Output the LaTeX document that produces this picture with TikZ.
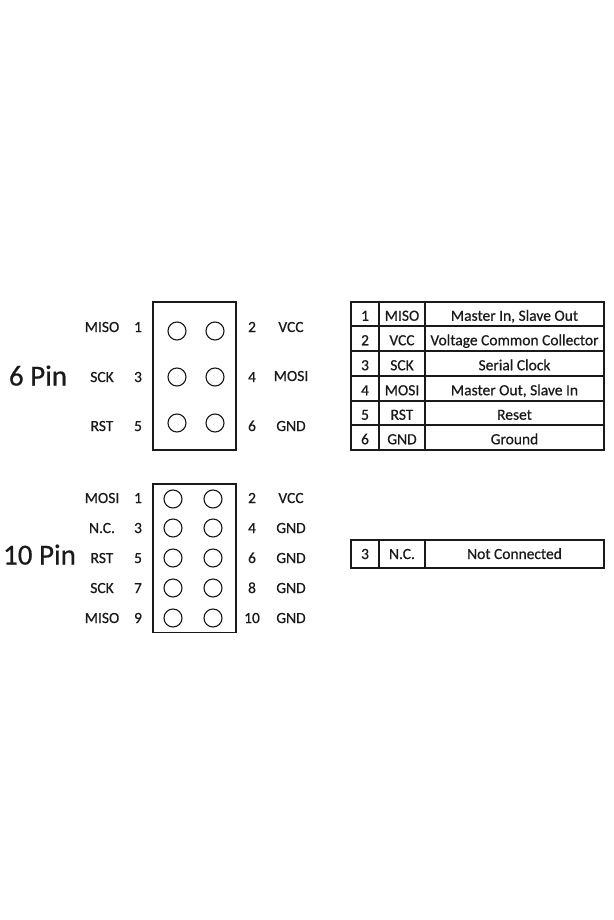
\documentclass[tikz,border=0pt]{standalone}
\usepackage{fontspec}
\setmainfont{Carlito}[BoldFont=Carlito,BoldFeatures={FakeBold=0.5}]
\definecolor{ink}{HTML}{1A1A1A}
\newcommand{\fs}[1]{\fontsize{#1}{#1}\selectfont\bfseries}
\tikzset{
  header/.style={draw=ink,line width=1.3pt,fill=none,inner sep=0pt,outer sep=0pt},
  pin/.style={circle,draw=ink,line width=1.1pt,minimum size=18pt,inner sep=0pt},
  lab/.style={text=ink,inner sep=0pt,anchor=center,font=\fs{15.5},text height=10pt,text depth=0pt},
  title/.style={text=ink,inner sep=0pt,anchor=center,font=\fs{29},text height=19pt,text depth=0pt},
  cell/.style={draw=ink,line width=1.4pt,inner sep=0pt,outer sep=0pt,text=ink,font=\fs{15.5},anchor=north west,text height=10pt,text depth=0pt},
  lowcell/.style={cell,text height=13.5pt},
}
\begin{document}
\begin{tikzpicture}[x=1pt,y=-1pt]
\useasboundingbox[fill=white] (0,0) rectangle (613,920);
% 6 pin
\node[title] (t6) at (38,376) {6 Pin};
\node[header,minimum width=83pt,minimum height=148pt,anchor=north west] (h6) at (153,302) {};
\foreach \n/\x/\y in {1/177/331,2/215/331,3/177/377,4/215/377,5/177/423,6/215/423}
  \node[pin] (p6-\n) at (\x,\y) {};
\foreach \n/\t/\x/\y in {MISO/MISO/102/327,SCK/SCK/102/377,RST/RST/102/426,VCC/VCC/291/327,MOSI/MOSI/291/376,GND/GND/291/426}
  \node[lab] (l6-\n) at (\x,\y) {\t};
\foreach \t/\x/\y in {1/138/327,3/138/377,5/138/426,2/252/327,4/252/377,6/252/426}
  \node[lab] (n6-\t) at (\x,\y) {\t};
% 10 pin
\node[title] (t10) at (39.5,555) {10 Pin};
\node[header,minimum width=83pt,minimum height=148.5pt,anchor=north west] (h10) at (153,484) {};
\foreach \n/\x/\y in {1/173/499,2/213/499,3/173/528,4/213/528,5/173/558,6/213/558,7/173/588,8/213/588,9/173/618,10/213/618}
  \node[pin] (p10-\n) at (\x,\y) {};
\foreach \k/\t/\x/\y in {a/MOSI/102/498,b/N.C./102/528,c/RST/102/558,d/SCK/102/588,e/MISO/102/618,f/VCC/291/498,g/GND/291/528,h/GND/291/558,i/GND/291/588,j/GND/291/618}
  \node[lab] (l10-\k) at (\x,\y) {\t};
\foreach \t/\x/\y in {1/138/498,3/138/528,5/138/558,7/138/588,9/138/618,2/252/498,4/252/528,6/252/558,8/252/588,10/252/618}
  \node[lab] (n10-\t) at (\x,\y) {\t};
% table 6
\foreach \r/\y/\h/\a/\b/\c in {1/302/24/1/MISO/{Master In, Slave Out},2/326/25/2/VCC/{Voltage Common Collector},3/351/25/3/SCK/{Serial Clock},4/376/25/4/MOSI/{Master Out, Slave In},5/401/24/5/RST/Reset,6/425/25/6/GND/Ground}{
  \node[lowcell,minimum width=28pt,minimum height=\h pt] (a\r) at (351,\y) {\a};
  \node[lowcell,minimum width=46pt,minimum height=\h pt] (b\r) at (379,\y) {\b};
  \node[lowcell,minimum width=179pt,minimum height=\h pt] (c\r) at (425,\y) {\c};
}
% table 10
\node[cell,minimum width=28pt,minimum height=28pt] (a7) at (351,540) {3};
\node[cell,minimum width=46pt,minimum height=28pt] (b7) at (379,540) {N.C.};
\node[cell,minimum width=179pt,minimum height=28pt] (c7) at (425,540) {Not Connected};
\end{tikzpicture}
\end{document}
